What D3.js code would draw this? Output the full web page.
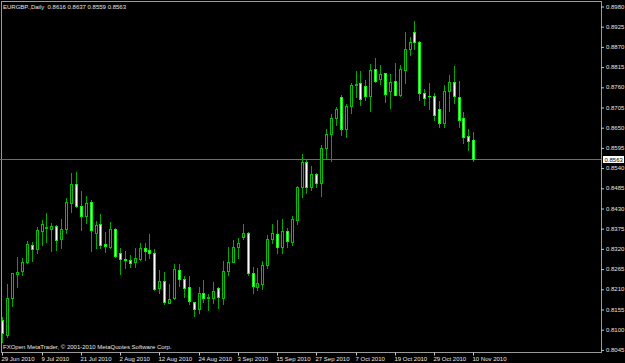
<!DOCTYPE html>
<html>
<head>
<meta charset="utf-8">
<script src="https://cdn.jsdelivr.net/npm/d3@7"></script>
<style>
body { margin: 0; background: #000; }
svg { display: block; }
text { font-family: "Liberation Sans", Arial, sans-serif; font-size: 6px; }
</style>
</head>
<body>
<div id="chart"></div>
<script>
var symbol = "EURGBP.,Daily"
var copyright = "FXOpen MetaTrader, \u00a9 2001-2010 MetaQuotes Software Corp."

// daily bars, 29 Jun 2010 .. 10 Nov 2010 (weekdays)
var opens = [0.8125,0.8084,0.8184,0.8251,0.8259,0.8282,0.8329,0.8318,0.8368,0.8375,
  0.8374,0.8382,0.8345,0.8373,0.8443,0.8495,0.8435,0.8408,0.8445,0.8363,
  0.8386,0.8332,0.8325,0.8373,0.8307,0.8292,0.8288,0.8282,0.8291,0.8321,
  0.8316,0.8308,0.8211,0.8231,0.8172,0.8184,0.8261,0.8237,0.8215,0.8175,
  0.8156,0.8198,0.8186,0.8186,0.8213,0.8186,0.8259,0.8284,0.8325,0.8350,
  0.8363,0.8252,0.8216,0.8222,0.8276,0.8346,0.8359,0.8325,0.8367,0.8338,
  0.8397,0.8486,0.8554,0.8486,0.8522,0.8497,0.8594,0.8631,0.8674,0.8733,
  0.8644,0.8708,0.8766,0.8770,0.8763,0.8736,0.8808,0.8780,0.8797,0.8749,
  0.8777,0.8738,0.8806,0.8862,0.8908,0.8883,0.8744,0.8736,0.8735,0.8700,
  0.8661,0.8749,0.8774,0.8733,0.8676,0.8626,0.8616]
var highs = [0.8134,0.8223,0.8254,0.8296,0.8295,0.8339,0.8337,0.8379,0.8397,0.8417,
  0.8388,0.8383,0.8399,0.8456,0.8526,0.8528,0.8476,0.8463,0.8452,0.8395,
  0.8413,0.8365,0.8392,0.8375,0.8320,0.8313,0.8303,0.8320,0.8334,0.8335,
  0.8359,0.8318,0.8261,0.8255,0.8223,0.8277,0.8277,0.8245,0.8245,0.8175,
  0.8216,0.8234,0.8195,0.8229,0.8216,0.8286,0.8325,0.8343,0.8347,0.8386,
  0.8365,0.8269,0.8266,0.8286,0.8356,0.8386,0.8397,0.8400,0.8376,0.8408,
  0.8490,0.8577,0.8561,0.8544,0.8524,0.8601,0.8645,0.8685,0.8706,0.8738,
  0.8712,0.8771,0.8804,0.8804,0.8778,0.8822,0.8838,0.8819,0.8798,0.8795,
  0.8826,0.8819,0.8908,0.8895,0.8939,0.8885,0.8753,0.8771,0.8742,0.8722,
  0.8765,0.8792,0.8817,0.8776,0.8692,0.8645,0.8637]
var lows = [0.8065,0.8079,0.8164,0.8214,0.8248,0.8280,0.8286,0.8307,0.8329,0.8338,
  0.8313,0.8316,0.8320,0.8361,0.8420,0.8433,0.8370,0.8388,0.8313,0.8320,
  0.8320,0.8311,0.8322,0.8297,0.8250,0.8266,0.8270,0.8270,0.8288,0.8288,
  0.8293,0.8207,0.8198,0.8169,0.8171,0.8182,0.8218,0.8188,0.8169,0.8137,
  0.8145,0.8175,0.8152,0.8172,0.8158,0.8168,0.8248,0.8282,0.8295,0.8345,
  0.8248,0.8198,0.8207,0.8209,0.8267,0.8336,0.8308,0.8308,0.8325,0.8329,
  0.8386,0.8461,0.8470,0.8479,0.8488,0.8463,0.8567,0.8559,0.8656,0.8629,
  0.8624,0.8688,0.8731,0.8710,0.8724,0.8695,0.8774,0.8768,0.8718,0.8703,
  0.8737,0.8736,0.8771,0.8847,0.8862,0.8724,0.8710,0.8699,0.8670,0.8650,
  0.8651,0.8695,0.8717,0.8651,0.8606,0.8588,0.8559]
var closes = [0.8090,0.8184,0.8252,0.8255,0.8282,0.8332,0.8318,0.8370,0.8386,0.8377,
  0.8380,0.8343,0.8373,0.8446,0.8495,0.8436,0.8408,0.8444,0.8370,0.8383,
  0.8329,0.8326,0.8373,0.8300,0.8291,0.8288,0.8279,0.8294,0.8322,0.8313,
  0.8308,0.8209,0.8231,0.8175,0.8183,0.8263,0.8236,0.8213,0.8178,0.8156,
  0.8199,0.8186,0.8187,0.8205,0.8187,0.8258,0.8282,0.8323,0.8335,0.8361,
  0.8254,0.8218,0.8225,0.8275,0.8346,0.8361,0.8325,0.8367,0.8341,0.8399,
  0.8486,0.8554,0.8486,0.8522,0.8497,0.8594,0.8631,0.8676,0.8700,0.8644,
  0.8709,0.8764,0.8768,0.8728,0.8735,0.8806,0.8777,0.8794,0.8740,0.8774,
  0.8738,0.8808,0.8862,0.8883,0.8881,0.8744,0.8730,0.8734,0.8683,0.8661,
  0.8749,0.8774,0.8735,0.8670,0.8624,0.8613,0.8563]

// price axis ticks
var priceTicks = [0.8980,0.8925,0.8870,0.8815,0.8760,0.8705,0.8650,0.8595,0.8540,
  0.8485,0.8430,0.8375,0.8320,0.8265,0.8210,0.8155,0.8100,0.8045]

var days = d3.timeDay.range(new Date(2010, 5, 29), new Date(2010, 10, 11))
  .filter(function (d) { return d.getDay() != 0 && d.getDay() != 6 })

var bars = opens.map(function (o, i) {
  return { i: i, date: days[i], o: o, h: highs[i], l: lows[i], c: closes[i] }
})
var last = bars[bars.length - 1]

var width = 625, height = 363
var plot = { left: 1, top: 1, right: 601, bottom: 352 }

var svg = d3.select("#chart").append("svg")
  .attr("width", width)
  .attr("height", height)
  .style("background", "#000")

var x = d3.scaleLinear().domain([0, 96]).range([2.3, 473.3])
var y = d3.scaleLinear().domain([0.8045, 0.8980]).range([349.4, 6])

// frame
svg.append("rect")
  .attr("x", plot.left + 0.5).attr("y", plot.top + 0.5)
  .attr("width", plot.right - plot.left).attr("height", plot.bottom - plot.top)
  .attr("fill", "none").attr("stroke", "#9a9a9a")

// current price line
svg.append("line")
  .attr("x1", 0).attr("x2", plot.right)
  .attr("y1", Math.round(y(last.c)) + 0.5).attr("y2", Math.round(y(last.c)) + 0.5)
  .attr("stroke", "#6e6e6e")

// candles
var candle = svg.append("g").attr("class", "candles")
  .selectAll("g").data(bars).join("g")

candle.append("line")
  .attr("x1", function (d) { return Math.round(x(d.i)) + 0.5 })
  .attr("x2", function (d) { return Math.round(x(d.i)) + 0.5 })
  .attr("y1", function (d) { return Math.round(y(d.h)) })
  .attr("y2", function (d) { return Math.round(y(d.l)) + 1 })
  .attr("stroke", "#00a800")

candle.each(function (d) {
  var g = d3.select(this)
  var cx = Math.round(x(d.i))
  var top = Math.round(y(Math.max(d.o, d.c)))
  var bot = Math.round(y(Math.min(d.o, d.c)))
  var bull = d.c >= d.o
  if (bot - top < 1) {
    g.append("line")
      .attr("x1", cx - 1).attr("x2", cx + 2)
      .attr("y1", top + 0.5).attr("y2", top + 0.5)
      .attr("stroke", bull ? "#00c000" : "#00ff00")
  } else {
    g.append("rect")
      .attr("x", cx - 0.5).attr("y", top + 0.5)
      .attr("width", 2).attr("height", bot - top)
      .attr("fill", bull ? "#000" : "#fff")
      .attr("stroke", bull ? "#00c000" : "#00ff00")
  }
})

// price axis
var yAxis = svg.append("g")
  .attr("transform", "translate(" + plot.right + ",0)")
  .call(d3.axisRight(y).tickValues(priceTicks).tickFormat(d3.format(".4f")).tickSize(3).tickPadding(2))
yAxis.select(".domain").remove()
yAxis.selectAll("line").attr("stroke", "#c8c8c8").attr("transform", "translate(0,0.5)")
yAxis.selectAll("text").attr("fill", "#e6e6e6").style("font-size", "6px").attr("dy", "0.35em")

// current price label
var py = Math.round(y(last.c))
svg.append("rect")
  .attr("x", 603).attr("y", py - 3)
  .attr("width", 21).attr("height", 7)
  .attr("fill", "#fff")
svg.append("text")
  .attr("x", 604.5).attr("y", py + 2.6)
  .attr("fill", "#000")
  .text(d3.format(".4f")(last.c))

// time axis
var xAxis = svg.append("g")
  .attr("transform", "translate(0," + plot.bottom + ")")
  .call(d3.axisBottom(x)
    .tickValues(d3.range(0, 97, 8))
    .tickFormat(function (i) { return d3.timeFormat("%-d %b %Y")(days[i]) })
    .tickSize(3).tickPadding(2))
xAxis.select(".domain").remove()
xAxis.selectAll(".tick line").attr("stroke", "#c8c8c8")
xAxis.selectAll(".tick").attr("transform", function (i) { return "translate(" + (Math.round(x(i)) + 0.5) + ",0.5)" })
xAxis.selectAll("text")
  .attr("text-anchor", "start").attr("x", -1).attr("y", 4).attr("dy", "0.71em")
  .attr("fill", "#e6e6e6").style("font-size", "6px")

// header and footer
svg.append("text")
  .attr("x", 3).attr("y", 9)
  .attr("fill", "#e6e6e6")
  .attr("xml:space", "preserve")
  .text(symbol + "  " + [last.o, last.h, last.l, last.c].map(d3.format(".4f")).join(" "))

svg.append("text")
  .attr("x", 3).attr("y", 349)
  .attr("fill", "#e6e6e6")
  .text(copyright)
</script>
</body>
</html>
